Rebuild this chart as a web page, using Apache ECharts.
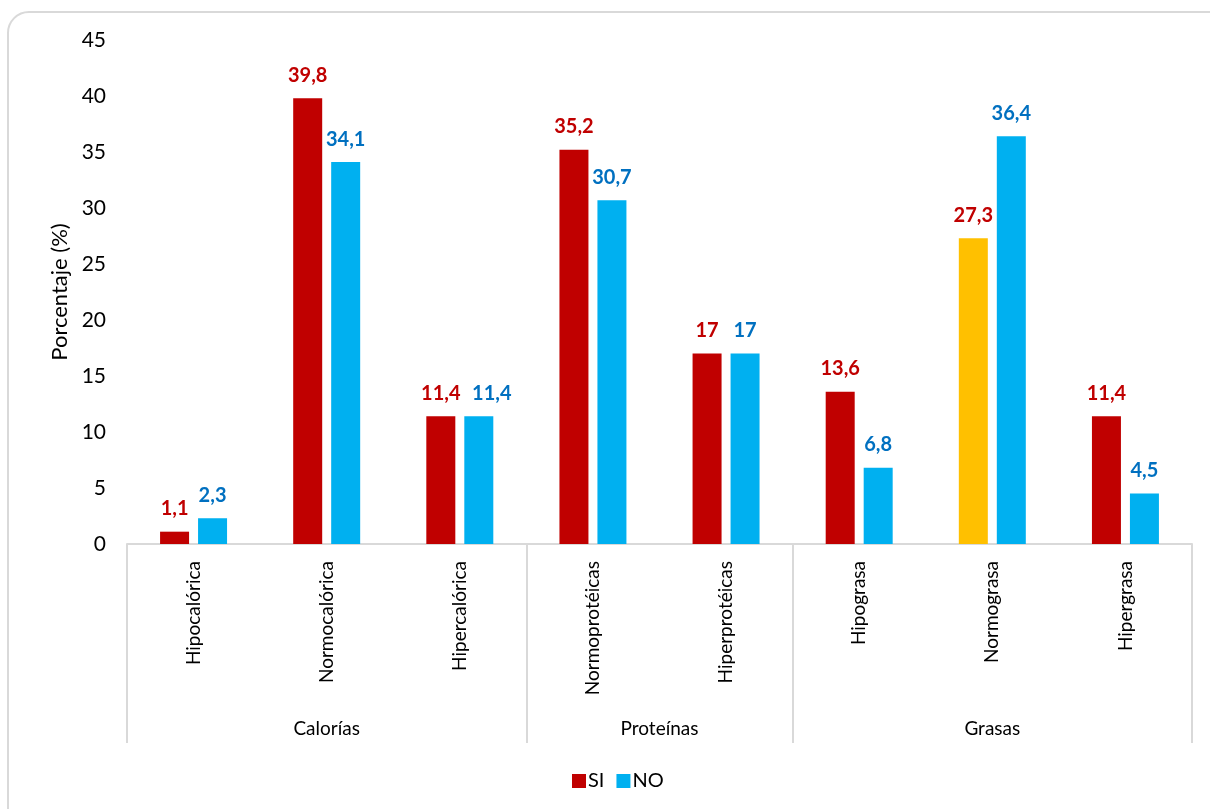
<!DOCTYPE html>
<html>
<head>
<meta charset="utf-8">
<script src="https://cdn.jsdelivr.net/npm/echarts@6/dist/echarts.min.js"></script>
<style>
  html, body { margin: 0; padding: 0; background: #fff; }
  #frame { position: absolute; left: 7px; top: 11px; width: 1240px; height: 840px;
           border: 2px solid #d9d9d9; border-radius: 22px; box-sizing: border-box; }
  #chart { position: absolute; left: 0; top: 0; width: 1210px; height: 809px; }
</style>
</head>
<body>
<div id="frame"></div>
<div id="chart"></div>
<script>
const categories = ['Hipocalórica', 'Normocalórica', 'Hipercalórica', 'Normoprotéicas', 'Hiperprotéicas', 'Hipograsa', 'Normograsa', 'Hipergrasa'];
const groups = ['Calorías', 'Proteínas', 'Grasas'];
const groupSizes = [3, 2, 3];
const siValues = [1.1, 39.8, 11.4, 35.2, 17, 13.6, 27.3, 11.4];
const noValues = [2.3, 34.1, 11.4, 30.7, 17, 6.8, 36.4, 4.5];
const highlightIndex = 6; // Normograsa SI bar drawn in yellow
const shiftedNoLabel = 2;  // Hipercalórica NO label nudged right to avoid overlap
const yTicks = { min: 0, max: 45, interval: 5 };

const FONT = 'Lato, "Open Sans", sans-serif';
const RED = '#C00000', BLUE = '#00B0F0', YELLOW = '#FFC000';

const bounds = [0];
groupSizes.forEach(s => bounds.push(bounds[bounds.length - 1] + s));
const centres = groupSizes.map((s, i) => bounds[i] + s / 2);

const fmt = v => String(v).replace('.', ',');

const chart = echarts.init(document.getElementById('chart'), null, { renderer: 'canvas' });
chart.setOption({
  backgroundColor: 'transparent',
  animation: false,
  textStyle: { fontFamily: FONT },
  grid: { left: 127, right: 18, top: 40, bottom: 265, containLabel: false },
  legend: {
    data: ['SI', 'NO'],
    left: 567, top: 766,
    icon: 'rect', itemWidth: 14, itemHeight: 14, itemGap: 12,
    textStyle: { fontFamily: FONT, fontSize: 20, color: '#000', padding: [0, 0, 0, -3] }
  },
  xAxis: [
    {
      type: 'category', data: categories, position: 'bottom',
      axisLine: { show: true, lineStyle: { color: '#d9d9d9', width: 2 } },
      axisTick: { show: false },
      axisLabel: { rotate: 90, fontSize: 19, color: '#000', margin: 17, fontFamily: FONT, interval: 0 }
    },
    {
      type: 'value', min: 0, max: categories.length, position: 'bottom',
      axisLine: { show: false },
      splitLine: { show: false },
      axisTick: { show: true, inside: false, length: 199, customValues: bounds,
                  lineStyle: { color: '#d9d9d9', width: 2 } },
      axisLabel: { customValues: centres, fontSize: 19, color: '#000', margin: 175, fontFamily: FONT,
                   formatter: v => { const i = centres.indexOf(v); return i >= 0 ? groups[i] : ''; } }
    }
  ],
  yAxis: {
    type: 'value', min: yTicks.min, max: yTicks.max, interval: yTicks.interval,
    axisLine: { show: false }, axisTick: { show: false }, splitLine: { show: false },
    axisLabel: { fontSize: 21, color: '#000', margin: 21, fontFamily: FONT },
    name: 'Porcentaje (%)', nameLocation: 'middle', nameGap: 56, nameRotate: 90,
    nameTextStyle: { fontSize: 22, color: '#000', fontFamily: FONT }
  },
  series: [
    {
      name: 'SI', type: 'bar', xAxisIndex: 0, barWidth: 29, barGap: '31%',
      itemStyle: { color: RED },
      data: siValues.map((v, i) => i === highlightIndex ? { value: v, itemStyle: { color: YELLOW } } : v),
      label: { show: true, position: 'top', distance: 13, color: RED, fontWeight: 'bold',
               fontSize: 20, fontFamily: FONT, formatter: p => fmt(p.value) }
    },
    {
      name: 'NO', type: 'bar', xAxisIndex: 0, barWidth: 29,
      itemStyle: { color: BLUE },
      data: noValues.map((v, i) => i === shiftedNoLabel ? { value: v, label: { offset: [13, 0] } } : v),
      label: { show: true, position: 'top', distance: 13, color: '#0070C0', fontWeight: 'bold',
               fontSize: 20, fontFamily: FONT, formatter: p => fmt(p.value) }
    }
  ]
});
</script>
</body>
</html>
